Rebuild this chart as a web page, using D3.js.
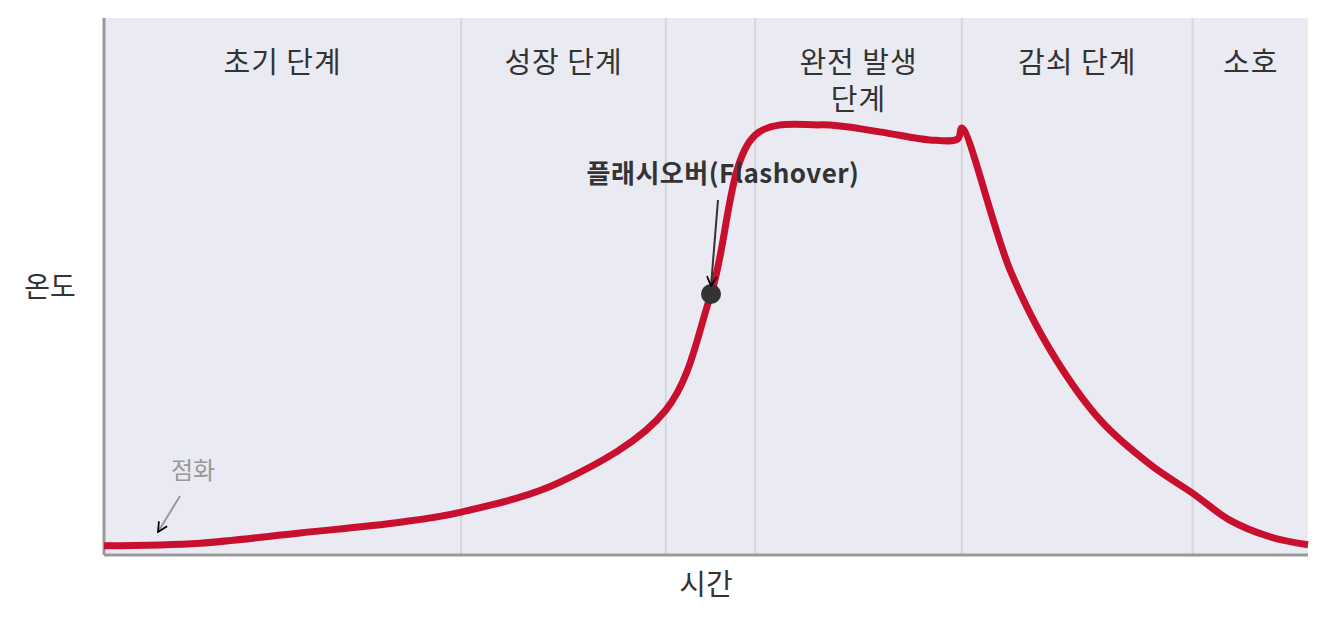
<!DOCTYPE html><html><head><meta charset="utf-8"><script src="https://cdn.jsdelivr.net/npm/d3@7"></script>
<style>body{margin:0;background:#fff}text{font-family:"Noto Sans CJK KR","Noto Sans",sans-serif}</style></head><body><svg id="c" width="1328" height="623"></svg><script>
const times=[0,9.6,19.5,29.5,35.6,45.5,56,60.5,64.9,71.4,77.3,82.3,85.1,85.5,90.3,94.3,99.3,104.3,108.5,112.2,116.2,120];
const temps=[17,22,41,61,80,136,270,486,782,801,788,773,775,795,531,382,251,168,115,65,34,19];
const phaseBounds=[35.6,56,64.9,85.5,108.5];
const phaseLabels=[{t:17.8,lines:["초기 단계"]},{t:45.8,lines:["성장 단계"]},{t:75.2,lines:["완전 발생","단계"]},{t:97,lines:["감쇠 단계"]},{t:114.3,lines:["소호"]}];
const flashT=60.5, flashV=486;
const svg=d3.select("#c");
const L=104,R=1308,T=18,B=555;
const x=d3.scaleLinear().domain([0,120]).range([L,R]);
const y=d3.scaleLinear().domain([0,1000]).range([B,T]);
svg.append("rect").attr("x",L).attr("y",T).attr("width",R-L).attr("height",B-T).attr("fill","#e9eaf2");
svg.selectAll("line.p").data(phaseBounds).join("line").attr("x1",d=>x(d)).attr("x2",d=>x(d)).attr("y1",T).attr("y2",B).attr("stroke","#d6d6dc").attr("stroke-width",2);
phaseLabels.forEach(p=>{const t=svg.append("text").attr("x",x(p.t)).attr("y",73).attr("text-anchor","middle").attr("font-size",29).attr("letter-spacing",1).attr("fill","#333");
p.lines.forEach((l,i)=>t.append("tspan").attr("x",x(p.t)).attr("dy",i?37:0).text(l));});
svg.append("line").attr("x1",L).attr("x2",L).attr("y1",T).attr("y2",B).attr("stroke","#999").attr("stroke-width",3);
svg.append("line").attr("x1",L).attr("x2",R).attr("y1",B).attr("y2",B).attr("stroke","#999").attr("stroke-width",3);
const line=d3.line().x((d,i)=>x(times[i])).y(d=>y(d)).curve(d3.curveCatmullRom.alpha(0.5));
svg.append("path").datum(temps).attr("d",line).attr("fill","none").attr("stroke","#c8102e").attr("stroke-width",7).attr("stroke-linejoin","round");
svg.append("circle").attr("cx",x(flashT)).attr("cy",y(flashV)).attr("r",10).attr("fill","#333");
svg.append("text").attr("x",723).attr("y",183).attr("text-anchor","middle").attr("font-size",26).attr("letter-spacing",0.5).attr("font-weight","bold").attr("fill","#333").text("플래시오버(Flashover)");
svg.append("defs").html('<marker id="a" viewBox="0 0 10 10" refX="9" refY="5" markerWidth="6" markerHeight="6" orient="auto"><path d="M1,1L9,5L1,9" fill="none" stroke="currentColor" stroke-width="1.5"/></marker>');
svg.append("line").attr("x1",718).attr("y1",200).attr("x2",x(flashT)).attr("y2",y(flashV)-8).attr("stroke","#333").attr("color","#333").attr("stroke-width",2).attr("marker-end","url(#a)");
svg.append("text").attr("x",193).attr("y",479).attr("text-anchor","middle").attr("font-size",24).attr("fill","#999").text("점화");
svg.append("line").attr("x1",180).attr("y1",496).attr("x2",158).attr("y2",532).attr("stroke","#999").attr("color","#999").attr("stroke-width",2).attr("marker-end","url(#a)");
svg.append("text").attr("x",706).attr("y",595).attr("text-anchor","middle").attr("font-size",29).attr("fill","#333").text("시간");
svg.append("text").attr("x",50).attr("y",297).attr("text-anchor","middle").attr("font-size",28).attr("fill","#333").text("온도");
</script></body></html>
